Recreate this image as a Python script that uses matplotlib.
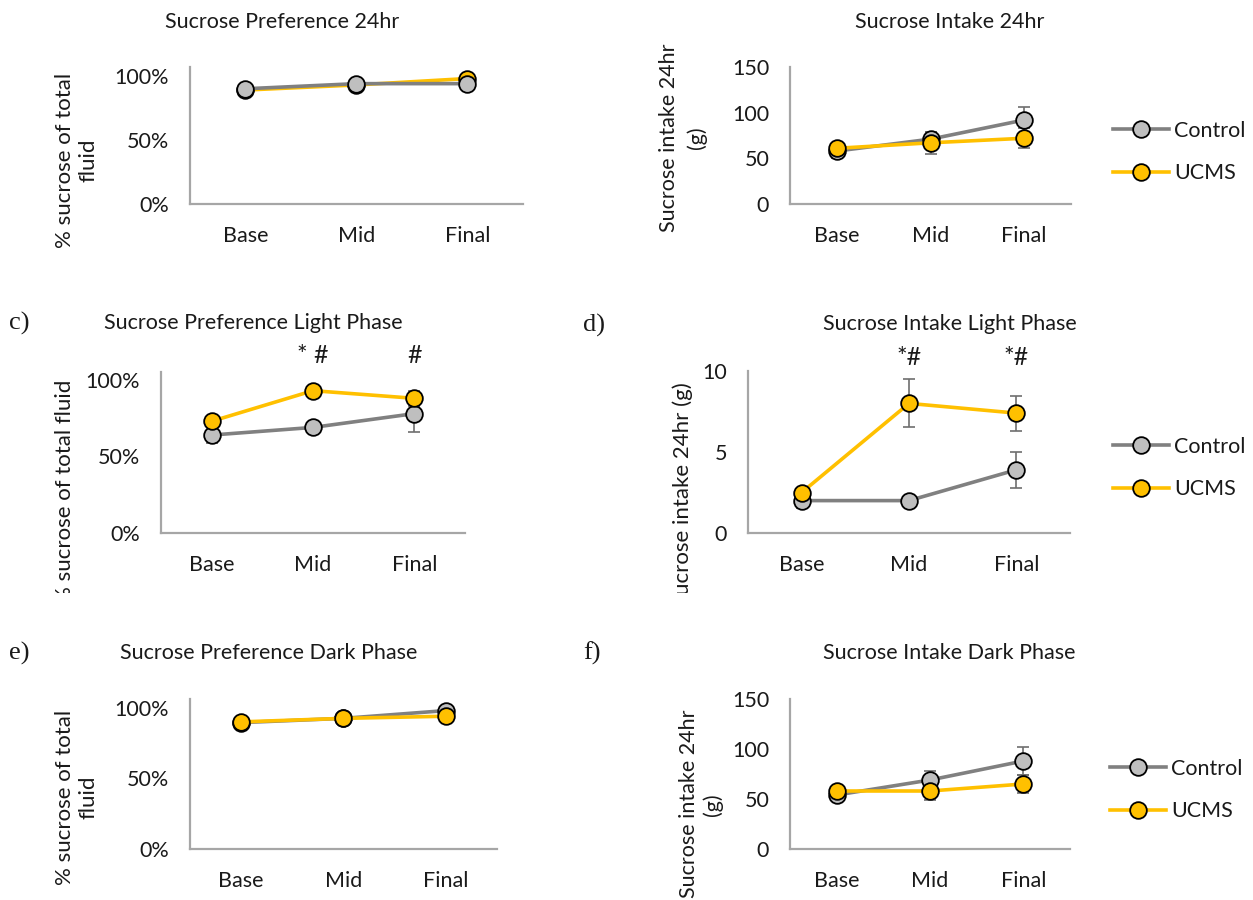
import numpy as np
import matplotlib
matplotlib.use('Agg')
import matplotlib.pyplot as plt
from matplotlib.ticker import PercentFormatter
from matplotlib.lines import Line2D
from matplotlib.transforms import Bbox, TransformedBbox

plt.rcParams['font.family'] = ['Lato', 'DejaVu Sans']

W, H = 1253, 900

stages = ['Base', 'Mid', 'Final']
groups = ['Control', 'UCMS']

# a) sucrose preference over 24 h (fraction of total fluid)
pref24_ctrl = [0.90, 0.94, 0.94]
pref24_ctrl_err = [0.01, 0.01, 0.01]
pref24_ucms = [0.89, 0.93, 0.98]
pref24_ucms_err = [0.01, 0.01, 0.01]

# b) sucrose intake over 24 h (g)
intake24_ctrl = [58, 71, 92]
intake24_ctrl_err = [8, 8, 14]
intake24_ucms = [61, 67, 72]
intake24_ucms_err = [5, 12, 11]

# c) preference, light phase
light_pref_ctrl = [0.64, 0.69, 0.78]
light_pref_ctrl_err = [0.05, 0.02, 0.12]
light_pref_ucms = [0.73, 0.93, 0.88]
light_pref_ucms_err = [0.03, 0.02, 0.05]

# d) intake, light phase (g)
light_intake_ctrl = [2.0, 2.0, 3.9]
light_intake_ctrl_err = [0.45, 0.2, 1.12]
light_intake_ucms = [2.5, 8.0, 7.4]
light_intake_ucms_err = [0.3, 1.48, 1.08]

# e) preference, dark phase
dark_pref_ctrl = [0.895, 0.925, 0.98]
dark_pref_ctrl_err = [0.01, 0.01, 0.01]
dark_pref_ucms = [0.90, 0.925, 0.94]
dark_pref_ucms_err = [0.01, 0.01, 0.01]

# f) intake, dark phase (g)
dark_intake_ctrl = [54, 69, 88]
dark_intake_ctrl_err = [6, 9, 14]
dark_intake_ucms = [58, 58, 65]
dark_intake_ucms_err = [5, 9, 9]

ctrl_line = '#808080'
ctrl_face = '#BFBFBF'
ucms_col = '#FFC000'
err_col = '#6E6E6E'
axis_col = '#A6A6A6'
txt_col = '#1a1a1a'

fig = plt.figure(figsize=(W / 100, H / 100), dpi=100)


def px_axes(x0, x1, top, bottom):
    return fig.add_axes([x0 / W, 1 - bottom / H, (x1 - x0) / W, (bottom - top) / H])


def ftext(x, y, s, **kw):
    kw.setdefault('color', txt_col)
    return fig.text(x / W, 1 - y / H, s, **kw)


def draw_panel(ax, ctrl, ctrl_err, ucms, ucms_err, ymax, ticks, pct=False, ctrl_on_top=False):
    x = np.arange(len(stages))
    z_c, z_u = (5, 4) if ctrl_on_top else (4, 5)
    for vals, err in [(ctrl, ctrl_err), (ucms, ucms_err)]:
        ax.errorbar(x, vals, yerr=err, fmt='none', ecolor=err_col, elinewidth=1.2,
                    capsize=4.5, capthick=1.2, zorder=2)
    ax.plot(x, ctrl, '-o', color=ctrl_line, mfc=ctrl_face, mec='black', mew=1.3,
            ms=12, lw=2.6, zorder=z_c, clip_on=False)
    ax.plot(x, ucms, '-o', color=ucms_col, mfc=ucms_col, mec='black', mew=1.3,
            ms=12, lw=2.6, zorder=z_u, clip_on=False)
    ax.set_xlim(-0.5, 2.5)
    ax.set_ylim(0, ymax)
    ax.set_yticks(ticks)
    ax.set_xticks(x, stages)
    if pct:
        ax.yaxis.set_major_formatter(PercentFormatter(xmax=1, decimals=0))
    for side in ['top', 'right']:
        ax.spines[side].set_visible(False)
    for side in ['left', 'bottom']:
        ax.spines[side].set_color(axis_col)
        ax.spines[side].set_linewidth(1.6)
    ax.tick_params(axis='both', length=0, labelsize=15.5, labelcolor=txt_col)
    ax.tick_params(axis='y', pad=15)
    ax.tick_params(axis='x', pad=16)
    ax.patch.set_alpha(0)


def add_legend(ax, x_px, y_px):
    handles = [
        Line2D([], [], color=ctrl_line, lw=2.6, marker='o', ms=12, mfc=ctrl_face, mec='black', mew=1.3),
        Line2D([], [], color=ucms_col, lw=2.6, marker='o', ms=12, mfc=ucms_col, mec='black', mew=1.3),
    ]
    ax.legend(handles, groups, loc='center left', bbox_to_anchor=(x_px / W, 1 - y_px / H),
              bbox_transform=fig.transFigure, frameon=False, fontsize=15.5,
              handlelength=2.6, handletextpad=0.25, labelspacing=1.05,
              borderpad=0, borderaxespad=0, labelcolor=txt_col)


# a) preference 24 h
ax_a = px_axes(190, 523, 67, 204)
draw_panel(ax_a, pref24_ctrl, pref24_ctrl_err, pref24_ucms, pref24_ucms_err,
           1.07, [0, 0.5, 1.0], pct=True, ctrl_on_top=True)
ftext(282, 22, 'Sucrose Preference 24hr', ha='center', va='center', fontsize=15.5)
ftext(77, 73, '% sucrose of total\nfluid', rotation=90, ha='center', va='top',
      fontsize=16, linespacing=1.2)

# b) intake 24 h
ax_b = px_axes(790, 1071, 67, 204)
draw_panel(ax_b, intake24_ctrl, intake24_ctrl_err, intake24_ucms, intake24_ucms_err,
           150, [0, 50, 100, 150])
ftext(950, 22, 'Sucrose Intake 24hr', ha='center', va='center', fontsize=15.5)
ftext(683, 43, 'Sucrose intake 24hr\n(g)', rotation=90, ha='center', va='top',
      fontsize=15.5, linespacing=1.4)
add_legend(ax_b, 1113, 152)

# c) preference, light phase
ax_c = px_axes(161, 465, 372, 533)
draw_panel(ax_c, light_pref_ctrl, light_pref_ctrl_err, light_pref_ucms, light_pref_ucms_err,
           1.052, [0, 0.5, 1.0], pct=True)
ax_c.text(1, 1.16, '* #', ha='center', va='center', fontsize=18, color=txt_col, clip_on=False)
ax_c.text(2, 1.16, '#', ha='center', va='center', fontsize=18, color=txt_col, clip_on=False)
ftext(253, 323, 'Sucrose Preference Light Phase', ha='center', va='center', fontsize=15.5)
ftext(9, 323, 'c)', ha='left', va='center', fontsize=19, family='Liberation Serif')
lab_c = ftext(65, 380, '% sucrose of total fluid', rotation=90, ha='center', va='top', fontsize=16)

# d) intake, light phase
ax_d = px_axes(748, 1070, 371, 533)
draw_panel(ax_d, light_intake_ctrl, light_intake_ctrl_err, light_intake_ucms, light_intake_ucms_err,
           10, [0, 5, 10])
ax_d.text(1, 10.85, '*#', ha='center', va='center', fontsize=18, color=txt_col, clip_on=False)
ax_d.text(2, 10.85, '*#', ha='center', va='center', fontsize=18, color=txt_col, clip_on=False)
ftext(950, 324, 'Sucrose Intake Light Phase', ha='center', va='center', fontsize=15.5)
ftext(583, 325, 'd)', ha='left', va='center', fontsize=19, family='Liberation Serif')
lab_d = ftext(683, 382, 'Sucrose intake 24hr (g)', rotation=90, ha='center', va='top', fontsize=16)
add_legend(ax_d, 1113, 468)

# both light-phase axis titles are cut off at the lower edge of their panels
clip = TransformedBbox(Bbox([[0, 1 - 593 / H], [1, 1]]), fig.transFigure)
for t in (lab_c, lab_d):
    t.set_clip_box(clip)
    t.set_clip_on(True)

# e) preference, dark phase
ax_e = px_axes(190, 497, 699, 849)
draw_panel(ax_e, dark_pref_ctrl, dark_pref_ctrl_err, dark_pref_ucms, dark_pref_ucms_err,
           1.062, [0, 0.5, 1.0], pct=True)
ftext(269, 653, 'Sucrose Preference Dark Phase', ha='center', va='center', fontsize=15.5)
ftext(9, 653, 'e)', ha='left', va='center', fontsize=19, family='Liberation Serif')
ftext(77, 710, '% sucrose of total\nfluid', rotation=90, ha='center', va='top',
      fontsize=16, linespacing=1.2)

# f) intake, dark phase
ax_f = px_axes(790, 1070, 699, 849)
draw_panel(ax_f, dark_intake_ctrl, dark_intake_ctrl_err, dark_intake_ucms, dark_intake_ucms_err,
           150, [0, 50, 100, 150])
ftext(949, 653, 'Sucrose Intake Dark Phase', ha='center', va='center', fontsize=15.5)
ftext(583, 653, 'f)', ha='left', va='center', fontsize=19, family='Liberation Serif')
ftext(701, 710, 'Sucrose intake 24hr\n(g)', rotation=90, ha='center', va='top',
      fontsize=15.5, linespacing=1.2)
add_legend(ax_f, 1110, 790)

fig.savefig('out.png', dpi=100, facecolor='white')
